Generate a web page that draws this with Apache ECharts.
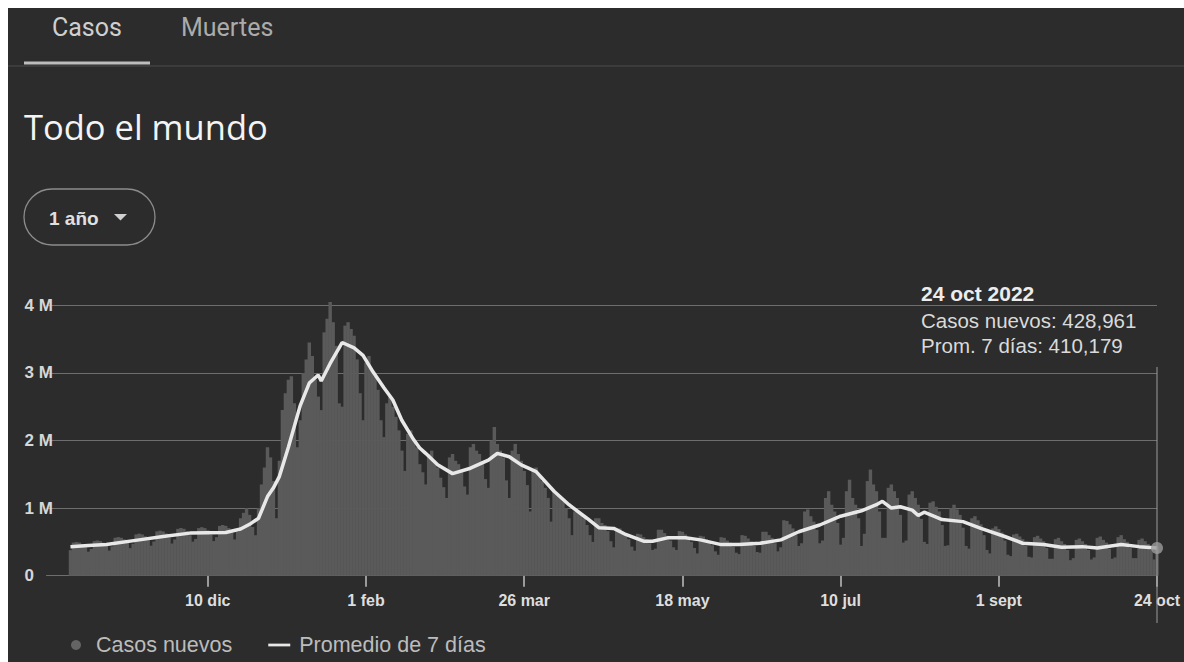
<!DOCTYPE html>
<html><head><meta charset="utf-8">
<script src="https://cdn.jsdelivr.net/npm/echarts@6/dist/echarts.min.js"></script>
<style>html,body{margin:0;padding:0;background:#fff;}#c{width:1184px;height:662px;}</style>
</head><body><div id="c"></div>
<script>
// ---- DATA ----
const axisStart = '2021-10-17';      // first category of the x axis (empty leading days)
const axisEnd = '2022-10-24';
const firstDataDay = '2021-10-25';   // first day with data
const tickDates = ['2021-12-10','2022-02-01','2022-03-26','2022-05-18','2022-07-10','2022-09-01','2022-10-24'];
const xTickLabels = ['10 dic','1 feb','26 mar','18 may','10 jul','1 sept','24 oct'];
const yTickLabels = ['0','1 M','2 M','3 M','4 M'];
const monthNames = ['ene','feb','mar','abr','may','jun','jul','ago','sept','oct','nov','dic'];

// daily new cases (thousands), Mon..Sun per row, starting Mon 25 oct 2021
const newCasesK = [
378,490,498,490,467,423,356,
395,512,521,512,488,442,372,
434,561,571,561,536,485,408,
472,611,622,611,583,527,444,
506,655,666,655,625,565,476,
536,693,706,693,662,599,504,
544,704,717,704,672,608,512,
570,737,750,737,704,637,536,
650,850,930,1000,900,720,600,
1000,1350,1600,1900,1750,1400,850,
1700,2450,2700,2900,2950,2550,1900,
2300,3000,3200,3450,3250,2900,2650,
2450,3600,3800,4050,3750,3400,2550,
2500,3700,3750,3650,3550,3200,2700,
2300,3150,3250,3050,2950,2750,2300,
2050,2550,2650,2500,2350,2150,1850,
1550,2100,2150,2000,1900,1650,1530,
1350,1800,1850,1700,1600,1450,1310,
1150,1750,1800,1700,1650,1550,1320,
1200,1900,1950,1850,1800,1700,1430,
1300,2000,2200,1950,1850,1750,1410,
1150,1850,1950,1800,1700,1550,1340,
950,1550,1600,1500,1400,1300,1150,
800,1250,1200,1150,1100,1000,850,
600,950,950,900,850,750,600,
500,850,850,780,750,660,510,
420,700,700,650,620,540,430,
370,620,610,570,540,480,380,
400,680,680,630,590,520,420,
380,660,650,610,570,500,410,
330,590,580,540,510,450,360,
310,570,560,520,490,430,340,
320,600,590,550,510,440,350,
340,650,650,600,560,480,360,
420,820,810,760,700,600,440,
480,950,980,880,800,680,480,
520,1150,1250,1050,950,780,460,
560,1250,1420,1150,1050,850,440,
620,1400,1570,1350,1250,950,560,
560,1300,1350,1250,1150,900,490,
520,1200,1250,1150,1050,840,500,
470,1080,1100,1020,950,750,440,
450,1000,1050,980,900,710,440,
400,850,880,820,760,600,380,
330,700,730,690,640,520,310,
290,610,620,580,540,440,280,
270,570,590,550,510,410,250,
250,540,560,510,470,380,230,
260,530,550,510,470,380,240,
270,560,580,530,490,400,250,
270,570,600,540,500,410,260,
260,530,550,510,470,380,240,
428.961
];

// 7-day average (thousands), read at these day offsets from 25 oct 2021
const avgDayIdx = [0,6,12,23,31,40,52,57,60,63,66,68,70,73,77,80,83,84,87,90,91,95,98,101,105,108,111,115,117,119,123,128,134,140,143,147,151,156,162,167,173,177,182,186,192,195,200,206,211,218,224,231,238,244,251,258,265,270,272,275,278,282,284,286,292,299,305,313,319,326,332,339,344,352,358,364];
const avgK = [430,445,460,530,580,630,640,690,760,850,1170,1300,1470,1900,2520,2850,2970,2880,3140,3370,3450,3370,3260,3040,2780,2600,2300,2010,1890,1810,1640,1510,1590,1710,1810,1760,1640,1540,1250,1050,850,710,700,610,510,510,560,560,530,460,460,480,530,650,750,880,960,1050,1100,1000,1020,970,890,940,830,800,700,580,480,460,420,430,410,460,430,410.179];

// ---- BUILD ----
function dayList(a, b) {
  const out = [];
  const pa = a.split('-').map(Number), pb = b.split('-').map(Number);
  let t = Date.UTC(pa[0], pa[1]-1, pa[2]);
  const end = Date.UTC(pb[0], pb[1]-1, pb[2]);
  while (t <= end) {
    const d = new Date(t);
    out.push(d.getUTCFullYear() + '-' + String(d.getUTCMonth()+1).padStart(2,'0') + '-' + String(d.getUTCDate()).padStart(2,'0'));
    t += 86400000;
  }
  return out;
}
const categories = dayList(axisStart, axisEnd);
const offset = categories.indexOf(firstDataDay);
const barData = categories.map((c, k) => k < offset ? '-' : newCasesK[k - offset]);
const lineData = avgDayIdx.map((d, k) => [categories[d + offset], avgK[k]]);
const tickSet = new Set(tickDates);
const lastCat = categories[categories.length - 1];
const lastCases = newCasesK[newCasesK.length - 1];
const lastAvg = avgK[avgK.length - 1];

const fmt = v => Math.round(v * 1000).toLocaleString('en-US');
const lp = lastCat.split('-').map(Number);
const lastDateText = lp[2] + ' ' + monthNames[lp[1]-1] + ' ' + lp[0];

const BG = '#2c2c2c';
const chart = echarts.init(document.getElementById('c'), null, {renderer: 'svg'});
chart.setOption({
  backgroundColor: BG,
  animation: false,
  grid: {left: 46.6, right: 27, top: 305.3, bottom: 86.3, containLabel: false},
  legend: {
    left: 66, top: 629, itemWidth: 22, itemHeight: 10, itemGap: 36,
    textStyle: {color: '#bcbcbc', fontSize: 21.5, fontFamily: 'Liberation Sans', padding: [0, 0, 0, 4]},
    data: [
      {name: 'Casos nuevos', icon: 'circle', itemStyle: {color: '#646464'}},
      {name: 'Promedio de 7 días', icon: 'path://M0,0 L24,0 L24,3 L0,3 Z', itemStyle: {color: '#e8e8e8'}}
    ]
  },
  xAxis: {
    type: 'category', data: categories, boundaryGap: false,
    axisLine: {show: true, lineStyle: {color: '#6e6e6e', width: 1}},
    axisTick: {show: true, length: 11, interval: (i, v) => tickSet.has(v), lineStyle: {color: '#c0c0c0', width: 1.5}},
    axisLabel: {
      interval: (i, v) => tickSet.has(v), margin: 17,
      formatter: v => xTickLabels[tickDates.indexOf(v)],
      color: '#dedede', fontSize: 16, fontWeight: 'bold', fontFamily: 'Liberation Sans'
    },
    splitLine: {show: false}
  },
  yAxis: {
    type: 'value', min: 0, max: 4000, interval: 1000,
    axisLine: {show: false}, axisTick: {show: false},
    axisLabel: {align: 'left', margin: 22, formatter: v => yTickLabels[Math.round(v / 1000)],
      color: '#d6d6d6', fontSize: 17, fontWeight: 'bold', fontFamily: 'Liberation Sans'},
    splitLine: {lineStyle: {color: '#6e6e6e', width: 1.2}}
  },
  series: [
    {name: 'Casos nuevos', type: 'bar', data: barData, barWidth: '115%', clip: false,
     itemStyle: {color: '#5a5a5a'}, z: 2},
    {name: 'Promedio de 7 días', type: 'line', data: lineData, symbol: 'none',
     lineStyle: {color: '#e8e8e8', width: 3.5}, itemStyle: {color: '#e8e8e8'}, z: 3},
    {type: 'scatter', data: [[lastCat, lastAvg]], symbolSize: 12,
     itemStyle: {color: '#9c9c9c'}, z: 5}
  ]
});

const px = chart.convertToPixel({xAxisIndex: 0}, lastCat);
chart.setOption({
  graphic: [
    {id: 'bt', type: 'rect', shape: {x: 0, y: 0, width: 1184, height: 8}, style: {fill: '#ffffff'}, z: 100},
    {id: 'bl', type: 'rect', shape: {x: 0, y: 0, width: 8, height: 662}, style: {fill: '#ffffff'}, z: 100},
    {id: 'tab1', type: 'text', style: {x: 52, y: 27, text: 'Casos', fill: '#cfcfcf', fontSize: 25, fontFamily: 'Roboto', textVerticalAlign: 'middle'}},
    {id: 'tab2', type: 'text', style: {x: 181, y: 27, text: 'Muertes', fill: '#ababab', fontSize: 25, fontFamily: 'Roboto', textVerticalAlign: 'middle'}},
    {id: 'div', type: 'rect', shape: {x: 8, y: 65.5, width: 1176, height: 1}, style: {fill: '#4d4d4d'}},
    {id: 'ul', type: 'rect', shape: {x: 24, y: 61.5, width: 126, height: 3}, style: {fill: '#bdbdbd'}},
    {id: 'title', type: 'text', style: {x: 24, y: 126, text: 'Todo el mundo', fill: '#f4f4f4', fontSize: 34.5, fontFamily: 'Open Sans', textVerticalAlign: 'middle'}},
    {id: 'pill', type: 'rect', shape: {x: 24, y: 189, width: 131, height: 56, r: 28}, style: {fill: 'none', stroke: '#8c8c8c', lineWidth: 1.3}},
    {id: 'pillt', type: 'text', style: {x: 49, y: 218, text: '1 año', fill: '#e0e0e0', fontSize: 19, fontWeight: 'bold', fontFamily: 'Liberation Sans', textVerticalAlign: 'middle'}},
    {id: 'arrow', type: 'polygon', shape: {points: [[114, 214], [127, 214], [120.5, 220.5]]}, style: {fill: '#d0d0d0'}},
    {id: 'vline', type: 'line', shape: {x1: px, y1: 367, x2: px, y2: 623}, style: {stroke: '#9a9a9a', lineWidth: 1}, z: 4},
    {id: 'tt1', type: 'text', style: {x: 921, y: 293, text: lastDateText, fill: '#ececec', fontSize: 21, fontWeight: 'bold', fontFamily: 'Liberation Sans', textVerticalAlign: 'middle'}},
    {id: 'tt2', type: 'text', style: {x: 921, y: 320, text: 'Casos nuevos: ' + fmt(lastCases), fill: '#dadada', fontSize: 20.5, fontFamily: 'Liberation Sans', textVerticalAlign: 'middle'}},
    {id: 'tt3', type: 'text', style: {x: 921, y: 345, text: 'Prom. 7 días: ' + fmt(lastAvg), fill: '#dadada', fontSize: 20.5, fontFamily: 'Liberation Sans', textVerticalAlign: 'middle'}}
  ]
});
</script></body></html>
